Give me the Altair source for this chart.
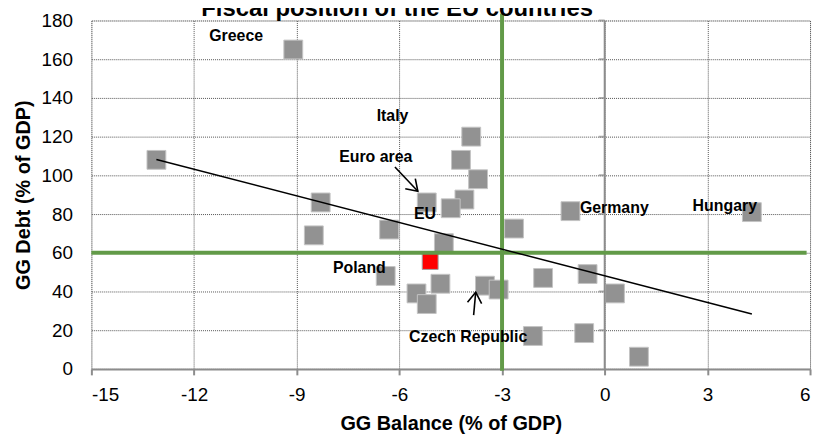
import altair as alt
import pandas as pd

# Country points: GG balance (% of GDP) vs GG debt (% of GDP)
balance = [-9.1, -13.1, -8.3, -8.5, -6.3, -6.4, -3.9, -4.2, -3.7, -5.2, -4.1, -4.5,
           -4.7, -5.5, -5.2, -4.8, -3.5, -3.1, -2.65, -1.8, -0.5, 0.3, -2.1, -0.6,
           1.0, -1.0, 4.3]
debt = [165, 108, 86, 69, 72, 48, 120, 108, 98, 86, 87.5, 83,
        65, 39, 33.5, 44, 43, 41, 72.5, 47, 49, 39, 17, 18.5,
        6.3, 81.5, 81]

# highlighted (red) point
red_balance = [-5.1]
red_debt = [55.5]

# labels
label_text = ["Greece", "Italy", "Euro area", "EU", "Germany", "Hungary", "Poland", "Czech Republic"]
label_x = [-10.77, -6.2, -6.69, -5.25, 0.28, 3.51, -7.17, -3.99]
label_y = [169.6, 128.2, 106.8, 77.3, 80.4, 81.7, 49.6, 13.7]

# trend line end points
trend_x = [-13.1, 4.3]
trend_y = [108.2, 28.4]

# reference lines
ref_balance = -3
ref_debt = 60

# arrows (tail -> tip)
arrow_x = [-6.13, -3.83]
arrow_y = [104.3, 27.8]
arrow_x2 = [-5.46, -3.77]
arrow_y2 = [91.8, 39.6]
arrow_angle = [135, 6]

x_ticks = [-15, -12, -9, -6, -3, 0, 3, 6]
y_ticks = [0, 20, 40, 60, 80, 100, 120, 140, 160, 180]

FONT = "Liberation Sans"

pts = pd.DataFrame({"b": balance, "d": debt})
red = pd.DataFrame({"b": red_balance, "d": red_debt})
labels = pd.DataFrame({"t": label_text, "b": label_x, "d": label_y})
trend = pd.DataFrame({"b": [trend_x[0]], "d": [trend_y[0]], "b2": [trend_x[1]], "d2": [trend_y[1]]})
arrows = pd.DataFrame({"b": arrow_x2, "d": arrow_y2, "b0": arrow_x, "d0": arrow_y, "a": arrow_angle})
yt = pd.DataFrame({"b": [0] * (len(y_ticks) - 1), "d": y_ticks[1:]})

xscale = alt.Scale(domain=[-15, 6], nice=False, zero=False)
yscale = alt.Scale(domain=[0, 180], nice=False)

GRID = "#555555"

XAX = alt.Axis(
    values=x_ticks, title="GG Balance (% of GDP)", grid=True,
    gridColor=GRID, gridDash=[1, 1], gridWidth=1,
    domainColor="#8c8c8c", domainWidth=2, tickColor="#8c8c8c", tickWidth=2, tickSize=6,
    labelFont=FONT, labelFontSize=19, labelColor="black", labelPadding=11,
    labelBaseline="top", labelOverlap=False, labelExpr="'' + datum.value",
    titleFont=FONT, titleFontSize=20, titleFontWeight="bold", titleColor="black",
    titleX=362, titleY=61.5, titleBaseline="alphabetic", titleAlign="center")
YAX = alt.Axis(
    values=y_ticks, title="GG Debt (% of GDP)", grid=True,
    gridColor=GRID, gridDash=[1, 1], gridWidth=1,
    domain=False, ticks=False, tickSize=0,
    labelFont=FONT, labelFontSize=19, labelColor="black", labelPadding=19,
    labelOverlap=False, labelExpr="'' + datum.value",
    titleFont=FONT, titleFontSize=20, titleFontWeight="bold", titleColor="black",
    titleX=-62, titleY=175.5, titleBaseline="alphabetic", titleAlign="center", titleAngle=270)

X = alt.X("b:Q", scale=xscale, axis=XAX)
Y = alt.Y("d:Q", scale=yscale, axis=YAX)

base_pts = alt.Chart(pts).mark_square(size=360, color="#929292", stroke="#c4c4c4",
                                      strokeWidth=1, opacity=1).encode(x=X, y=Y)

zero_line = alt.Chart(pd.DataFrame({"b": [0], "d": [0], "d2": [180]})).mark_rule(
    color="#8c8c8c", strokeWidth=2).encode(x=X, y=Y, y2="d2:Q")
zero_ticks = alt.Chart(yt).mark_tick(orient="horizontal", size=6, thickness=2,
                                     color="#8c8c8c", xOffset=-3).encode(x=X, y=Y)

red_pt = alt.Chart(red).mark_square(size=256, color="#ff0000", stroke="#a0a0a0",
                                    strokeWidth=1, opacity=1).encode(x=X, y=Y)

green_v = alt.Chart(pd.DataFrame({"b": [ref_balance], "d": [-1], "d2": [183.6]})).mark_rule(
    color="#629a48", strokeWidth=4, clip=False).encode(x=X, y=Y, y2="d2:Q")
green_h = alt.Chart(pd.DataFrame({"b": [-15], "b2": [5.9], "d": [ref_debt]})).mark_rule(
    color="#629a48", strokeWidth=4).encode(x=X, x2="b2:Q", y=Y)

trend_line = alt.Chart(trend).mark_rule(color="black", strokeWidth=1.5).encode(
    x=X, y=Y, x2="b2:Q", y2="d2:Q")

arrow_shaft = alt.Chart(arrows).mark_rule(color="black", strokeWidth=1.6).encode(
    x=X, y=Y, x2="b0:Q", y2="d0:Q")
arrow_head = alt.Chart(arrows).mark_point(
    shape="M-0.55,0.83 L0,0 L0.55,0.83", filled=False, stroke="black",
    strokeWidth=1.6, size=676, opacity=1).encode(
    x=X, y=Y, angle=alt.Angle("a:Q", scale=None))

text = alt.Chart(labels).mark_text(font=FONT, fontSize=16, fontWeight="bold",
                                   color="black", align="center",
                                   baseline="alphabetic").encode(
    x=X, y=Y, text="t:N")

chart = alt.layer(base_pts, zero_line, zero_ticks, red_pt, green_v, green_h,
                  trend_line, arrow_shaft, arrow_head, text).properties(
    width=724, height=351,
    padding={"left": 84, "top": 11, "right": 5, "bottom": 66},
    autosize=alt.AutoSizeParams(type="none"),
    title=alt.TitleParams("Fiscal position of the EU countries", font=FONT,
                          fontSize=24, fontWeight="bold", color="black",
                          anchor="middle", dx=-54, dy=31, offset=3, frame="group",
                          baseline="alphabetic"),
).configure_view(stroke=None).configure(background="white")

chart.save("out.html", embed_options={"renderer": "svg", "actions": False})
